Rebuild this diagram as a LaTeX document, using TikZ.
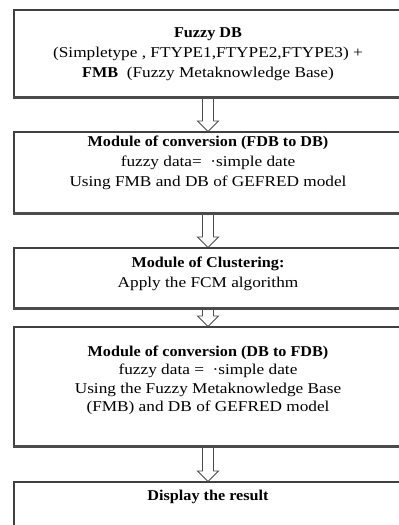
\documentclass[tikz,border=0pt]{standalone}
\usepackage{fontspec}
\setmainfont{Liberation Serif}[FakeStretch=1.15]
\newfontfamily\ttlfont{Liberation Serif}[FakeStretch=1.08]
\newcommand{\ttl}[1]{{\ttlfont\bfseries #1}}
\usetikzlibrary{calc}
\tikzset{
  box/.style={draw=black!75, line width=1.1pt, minimum width=388pt, inner sep=0pt, fill=white},
  txt/.style={align=center, inner sep=0pt, font=\fontsize{15}{20}\selectfont},
  blockarrow/.style={draw=black!70, line width=0.8pt, line join=miter},
  shade/.style={draw=black!70, line width=2.2pt}
}
\newcommand{\barrow}[2]{%
  \draw[blockarrow] ($(#1.south)+(-5.5,0)$) -- ($(#2.north)+(-5.5,-10.5)$)
    -- ($(#2.north)+(-10.5,-10.5)$) -- (#2.north) -- ($(#2.north)+(10.5,-10.5)$)
    -- ($(#2.north)+(5.5,-10.5)$) -- ($(#1.south)+(5.5,0)$);}
\begin{document}
\begin{tikzpicture}[x=1pt,y=-1pt]
\clip (0,0) rectangle (399,525);
\fill[white] (0,0) rectangle (399,525);
% boxes
\node[box, minimum height=87pt] (b1) at (208,53.5) {};
\node[box, minimum height=81pt] (b2) at (208,172.5) {};
\node[box, minimum height=60pt] (b3) at (208,278) {};
\node[box, minimum height=119pt] (b4) at (208,386.5) {};
\node[box, minimum height=80pt] (b5) at (208,522) {};
\draw[shade] (b1.south west) -- (b1.south east);
\draw[shade] (b2.south west) -- (b2.south east);
\draw[shade] (b3.south west) -- (b3.south east);
\draw[shade] (b4.south west) -- (b4.south east);
% texts
\node[txt] (t1) at (208,54) {\ttl{Fuzzy DB}\\(Simpletype , FTYPE1,FTYPE2,FTYPE3) +\\\ttl{FMB}\ \ (Fuzzy Metaknowledge Base)};
\node[txt] (t2) at (208,162.5) {\ttl{Module of conversion (FDB to DB)}\\fuzzy data=\ \ ·simple date\\Using FMB and DB of GEFRED model};
\node[txt] (t3) at (208,274) {\ttl{Module of Clustering:}\\Apply the FCM algorithm};
\node[txt, font=\fontsize{15}{18.5}\selectfont] (t4) at (208,380.5) {\ttl{Module of conversion (DB to FDB)}\\fuzzy data =\ \ ·simple date\\Using the Fuzzy Metaknowledge Base\\(FMB) and DB of GEFRED model};
\node[txt] (t5) at (208,497) {\ttl{Display the result}};
% arrows
\barrow{b1}{b2}
\barrow{b2}{b3}
\barrow{b3}{b4}
\barrow{b4}{b5}
\end{tikzpicture}
\end{document}
